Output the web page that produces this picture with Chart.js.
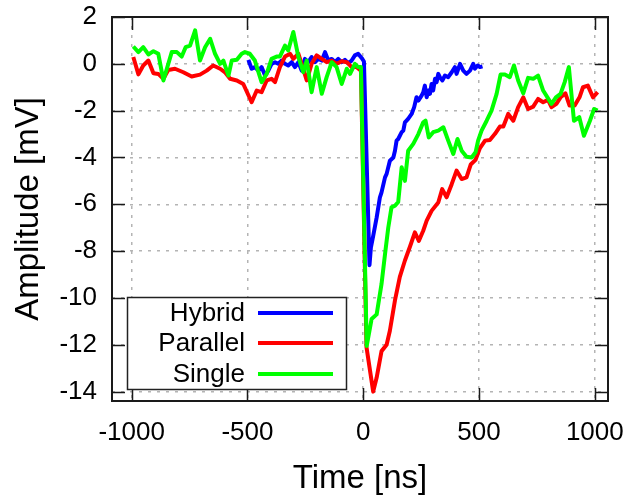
<!DOCTYPE html>
<html>
<head>
<meta charset="utf-8">
<script src="https://cdn.jsdelivr.net/npm/chart.js@4/dist/chart.umd.min.js"></script>
<style>
html,body{margin:0;padding:0;background:#fff;}
canvas{display:block;}
</style>
</head>
<body>
<canvas id="c" width="629" height="495"></canvas>
<script>
// ---- data ----
const seriesNames = ["Hybrid", "Parallel", "Single"];
const seriesColors = ["#0000ff", "#ff0000", "#00ff00"];

const hybridTime = [-496,-482,-468,-453,-439,-424,-410,-396,-381,-367,-352,-338,-324,-309,-295,-280,-266,-252,-237,-223,-208,-194,-179,-165,-151,-136,-122,-108,-93,-79,-65,-50,-36,-22,-7,3,27,33,43,58,72,79,94,101,115,130,137,144,151,166,173,180,194,209,220,230,238,252,259,266,274,281,288,295,302,310,317,324,331,342,353,367,382,396,403,418,432,446,461,475,482,494,504,515];
const hybridAmp = [0.17,-0.21,-0.14,-0.29,-0.14,-0.5,-0.29,0,0.07,0,0.14,0,-0.07,0.07,-0.14,0.07,-0.29,0.21,0.07,0.29,0.07,0.21,0.14,0.5,0.14,0.21,0.07,0.21,0.07,0.17,0.03,0.14,0.36,0.43,0.25,0.1,-8.6,-7.85,-7.35,-6.56,-5.7,-5.49,-4.85,-4.7,-4.14,-4.0,-3.71,-3.28,-3.21,-2.92,-2.85,-2.5,-2.35,-2.14,-1.85,-1.43,-1.57,-1.36,-1.22,-0.93,-1.43,-1.14,-1.28,-0.86,-1.14,-0.64,-0.78,-0.43,-0.57,-0.71,-0.5,-0.57,-0.36,-0.14,-0.43,0,-0.29,-0.43,-0.29,0,-0.21,-0.07,-0.14,-0.11];

const parallelTime = [-993,-971,-950,-928,-906,-885,-863,-842,-813,-777,-741,-705,-676,-648,-618,-597,-575,-546,-518,-482,-460,-439,-417,-396,-381,-360,-338,-316,-302,-280,-266,-244,-223,-201,-179,-158,-136,-115,-93,-71,-50,-28,-10,14,43,58,79,101,115,137,158,180,202,223,240,259,274,295,324,341,360,382,403,425,446,464,485,504,526,547,569,590,605,626,648,669,691,712,734,755,777,798,813,834,852,873,891,913,934,949,970,992,1012];
const parallelAmp = [0.29,-0.45,-0.07,0.14,-0.4,-0.43,-0.64,-0.26,-0.21,-0.36,-0.54,-0.46,-0.29,-0.07,-0.21,-0.36,-0.64,-0.71,-0.86,-1.64,-1.14,-1.21,-0.71,-0.64,-0.78,-0.14,0.31,0.43,0.21,0.43,0,-0.71,0,0.36,0.21,0.07,0.14,0,0.11,0.07,-0.14,-0.14,-0.29,-12.1,-14.0,-13.4,-12.27,-12.0,-11.4,-10.1,-9.1,-8.4,-7.8,-7.2,-7.56,-7.13,-6.7,-6.28,-5.92,-5.35,-5.7,-5.14,-4.56,-4.92,-4.85,-4.3,-4.1,-3.6,-3.28,-3.25,-2.99,-2.68,-2.68,-2.14,-2.43,-1.85,-1.43,-1.93,-1.83,-1.5,-1.64,-1.54,-1.85,-1.71,-1.43,-1.26,-1.78,-1.78,-1.43,-1.0,-0.93,-1.43,-1.21];

const singleTime = [-993,-971,-950,-928,-906,-885,-863,-827,-805,-784,-767,-748,-726,-705,-683,-661,-640,-618,-604,-582,-568,-546,-525,-511,-490,-468,-439,-417,-396,-374,-360,-338,-324,-302,-280,-259,-244,-223,-201,-179,-158,-136,-115,-93,-71,-57,-36,-22,-10,15,36,58,79,94,108,122,137,151,166,180,194,216,238,259,269,283,302,324,346,367,389,407,425,446,468,485,496,511,533,554,576,593,612,633,651,669,691,712,734,755,777,813,832,852,870,888,910,933,953,979,997,1012];
const singleAmp = [0.74,0.5,0.71,0.4,0.54,0.43,-0.71,0.5,0.5,0.31,0.71,0.78,1.43,0.14,0.71,1.07,0.43,0,0.14,-0.5,0.14,0.17,0.43,0.5,0.43,0.14,-0.78,-0.43,0.21,0.31,0.31,0.78,0.57,1.36,0.29,-0.36,0.14,-1.21,-0.14,-1.28,-0.57,0.07,-0.14,-0.86,-0.21,-0.43,0,-0.14,-0.14,-12.05,-10.9,-10.7,-9.4,-8.13,-7.0,-6.13,-6.06,-5.9,-4.42,-5.0,-3.71,-3.42,-3.0,-2.5,-2.43,-3.14,-2.92,-2.85,-2.71,-3.28,-3.85,-3.21,-3.71,-3.97,-4.0,-3.78,-3.28,-2.85,-2.43,-2.0,-1.28,-0.46,-0.46,-0.57,-0.07,-0.71,-1.26,-0.6,-0.64,-0.5,-1.14,-1.71,-1.43,-1.28,-0.78,-0.14,-2.43,-2.28,-3.07,-2.43,-1.93,-2.0];

const xTicks = [-1000, -500, 0, 500, 1000];
const yTicks = [2, 0, -2, -4, -6, -8, -10, -12, -14];
const xTitle = "Time [ns]";
const yTitle = "Amplitude [mV]";

function pts(t, v) { return t.map((x, i) => ({x: x, y: v[i]})); }

const FONT = '"Liberation Sans", Arial, "DejaVu Sans", sans-serif';

function noPad(s) { s.paddingTop = 0; s.paddingBottom = 0; s.paddingLeft = 0; s.paddingRight = 0; }

const framePlugin = {
  id: 'frameAndLegend',
  afterDatasetsDraw(chart) {
    const ctx = chart.ctx;
    const a = chart.chartArea;
    const xs = chart.scales.x, ys = chart.scales.y;
    const TL = 13;
    ctx.save();
    ctx.strokeStyle = '#1a1a1a';
    ctx.lineWidth = 1.5;
    ctx.beginPath();
    xs.ticks.forEach(t => {
      const px = Math.round(xs.getPixelForValue(t.value)) + 0.5;
      ctx.moveTo(px, a.bottom); ctx.lineTo(px, a.bottom - TL);
      ctx.moveTo(px, a.top); ctx.lineTo(px, a.top + TL);
    });
    ys.ticks.forEach(t => {
      const py = Math.round(ys.getPixelForValue(t.value)) + 0.5;
      ctx.moveTo(a.left, py); ctx.lineTo(a.left + TL, py);
      ctx.moveTo(a.right, py); ctx.lineTo(a.right - TL, py);
    });
    ctx.stroke();
    ctx.lineWidth = 2;
    ctx.strokeRect(a.left, a.top, a.right - a.left, a.bottom - a.top);

    // legend box
    const bl = a.left + 15, br = a.left + 234, bb = a.bottom - 12, bt = bb - 92;
    ctx.fillStyle = '#fff';
    ctx.fillRect(bl, bt, br - bl, bb - bt);
    ctx.lineWidth = 1.5;
    ctx.strokeStyle = '#222';
    ctx.strokeRect(bl + 0.5, bt + 0.5, br - bl, bb - bt);
    const rows = [16, 46, 77];
    ctx.font = '26px ' + FONT;
    ctx.textAlign = 'right';
    ctx.textBaseline = 'middle';
    chart.data.datasets.forEach((ds, i) => {
      const cy = bt + rows[i];
      ctx.fillStyle = '#000';
      ctx.fillText(ds.label, bl + 118, cy + 1);
      ctx.strokeStyle = ds.borderColor;
      ctx.lineWidth = 4;
      ctx.beginPath();
      ctx.moveTo(bl + 131, cy); ctx.lineTo(bl + 206, cy);
      ctx.stroke();
    });
    ctx.restore();
  }
};

new Chart(document.getElementById('c'), {
  type: 'line',
  data: {
    datasets: [
      {label: seriesNames[0], data: pts(hybridTime, hybridAmp), borderColor: seriesColors[0], order: 3},
      {label: seriesNames[1], data: pts(parallelTime, parallelAmp), borderColor: seriesColors[1], order: 2},
      {label: seriesNames[2], data: pts(singleTime, singleAmp), borderColor: seriesColors[2], order: 1}
    ]
  },
  options: {
    responsive: false,
    animation: false,
    devicePixelRatio: 1,
    layout: {padding: {left: 0, top: 17, right: 21, bottom: 0}},
    plugins: {legend: {display: false}, tooltip: {enabled: false}},
    elements: {
      point: {radius: 0},
      line: {tension: 0, borderWidth: 4, borderJoinStyle: 'round', fill: false}
    },
    scales: {
      x: {
        type: 'linear', min: -1085, max: 1057,
        afterBuildTicks: s => { s.ticks = xTicks.map(v => ({value: v})); },
        afterFit: s => { s.height = 94; noPad(s); },
        grid: {color: '#b4b4b4', lineWidth: 1.5, drawTicks: false},
        border: {display: false, dash: [3, 6]},
        ticks: {color: '#000', font: {family: FONT, size: 26}, padding: 16, maxRotation: 0, autoSkip: false, callback: v => String(v)},
        title: {display: true, text: xTitle, color: '#000', font: {family: FONT, size: 33, lineHeight: 1}, padding: {top: 0, bottom: 0}}
      },
      y: {
        type: 'linear', min: -14.4, max: 2,
        afterBuildTicks: s => { s.ticks = yTicks.map(v => ({value: v})); },
        afterFit: s => { s.width = 112; noPad(s); },
        grid: {color: '#b4b4b4', lineWidth: 1.5, drawTicks: false},
        border: {display: false, dash: [3, 6]},
        ticks: {color: '#000', font: {family: FONT, size: 26}, padding: 15, autoSkip: false, callback: v => String(v)},
        title: {display: true, text: yTitle, color: '#000', font: {family: FONT, size: 33, lineHeight: 1}, padding: {top: 12, bottom: 0}}
      }
    }
  },
  plugins: [framePlugin]
});
</script>
</body>
</html>
